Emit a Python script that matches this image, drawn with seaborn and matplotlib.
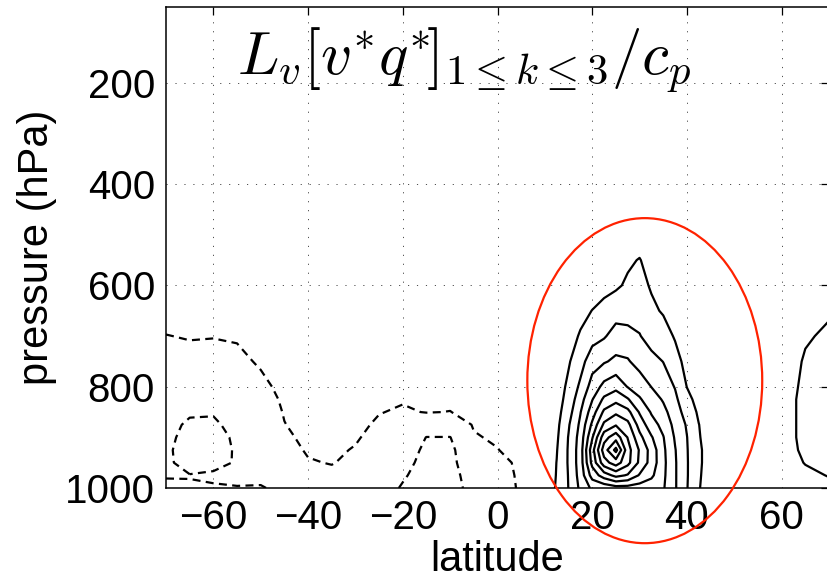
import numpy as np
import matplotlib
matplotlib.use("Agg")
import matplotlib.pyplot as plt
from matplotlib.patches import Ellipse
import seaborn as sns

# ---------------- data ----------------
lat = [-70, -65, -60, -55, -50, -45, -40, -35, -30, -25, -20, -15, -10, -5, 0, 5,
       10, 12.5, 15, 17.5, 20, 22.5, 25, 27.5, 30, 32.5, 35, 37.5, 40, 42.5, 45,
       50, 55, 60, 65, 70]
pressure = [1000, 975, 950, 925, 900, 875, 850, 825, 800, 750, 700, 650, 600, 550, 500, 50]

# vertical profiles (one per latitude, values at the pressure levels above)
vq_m70 = [-2.15, -1.95, -1.9, -1.9, -1.85, -1.8, -1.7, -1.6, -1.5, -1.3, -1.02, -0.7, -0.4, -0.2, 0, 0]
vq_m65 = [-2.05, -1.98, -2.2, -2.25, -2.2, -2.1, -1.92, -1.75, -1.55, -1.25, -0.95, -0.65, -0.4, -0.2, 0, 0]
vq_m60 = [-2.03, -1.95, -2.1, -2.3, -2.25, -2.1, -1.95, -1.8, -1.6, -1.3, -0.97, -0.7, -0.45, -0.2, 0, 0]
vq_m55 = [-2.02, -1.9, -1.97, -1.92, -1.88, -1.8, -1.7, -1.6, -1.45, -1.2, -0.92, -0.65, -0.4, -0.15, 0, 0]
vq_m50 = [-2.03, -1.9, -1.85, -1.78, -1.7, -1.6, -1.5, -1.35, -1.2, -0.9, -0.7, -0.45, -0.25, -0.1, 0, 0]
vq_m45 = [-1.9, -1.6, -1.4, -1.25, -1.12, -1.02, -0.95, -0.88, -0.78, -0.6, -0.45, -0.3, -0.15, -0.05, 0, 0]
vq_m40 = [-1.4, -1.2, -1.05, -0.93, -0.85, -0.77, -0.7, -0.65, -0.6, -0.45, -0.35, -0.25, -0.15, -0.05, 0, 0]
vq_m35 = [-1.3, -1.15, -0.97, -0.9, -0.82, -0.75, -0.7, -0.65, -0.6, -0.45, -0.35, -0.25, -0.15, -0.05, 0, 0]
vq_m30 = [-1.35, -1.25, -1.15, -1.04, -0.94, -0.87, -0.8, -0.72, -0.65, -0.5, -0.38, -0.27, -0.17, -0.08, 0, 0]
vq_m25 = [-1.5, -1.45, -1.4, -1.3, -1.2, -1.08, -0.98, -0.9, -0.82, -0.65, -0.48, -0.33, -0.2, -0.1, 0, 0]
vq_m20 = [-2.1, -1.88, -1.7, -1.5, -1.35, -1.2, -1.06, -0.96, -0.88, -0.7, -0.52, -0.36, -0.22, -0.1, 0, 0]
vq_m15 = [-2.5, -2.45, -2.3, -2.2, -2.02, -1.4, -0.98, -0.9, -0.82, -0.66, -0.5, -0.35, -0.22, -0.1, 0, 0]
vq_m10 = [-2.35, -2.3, -2.2, -2.15, -2.02, -1.45, -1.01, -0.9, -0.82, -0.66, -0.5, -0.35, -0.22, -0.1, 0, 0]
vq_m5 = [-1.7, -1.6, -1.5, -1.45, -1.05, -0.95, -0.85, -0.78, -0.7, -0.55, -0.4, -0.3, -0.2, -0.1, 0, 0]
vq_0 = [-1.25, -1.2, -1.15, -1.02, -0.92, -0.8, -0.7, -0.6, -0.5, -0.4, -0.3, -0.2, -0.12, -0.05, 0, 0]
vq_5 = [-0.93, -0.92, -0.9, -0.75, -0.6, -0.5, -0.4, -0.35, -0.3, -0.2, -0.15, -0.1, -0.05, 0, 0, 0]
vq_10 = [0.4, 0.35, 0.3, 0.25, 0.2, 0.15, 0.1, 0.05, 0, 0, 0, 0, 0, 0, 0, 0]
vq_12 = [1.1, 1.05, 1.02, 0.95, 0.85, 0.75, 0.65, 0.58, 0.5, 0.35, 0.2, 0.1, 0.05, 0, 0, 0]
vq_15 = [2.02, 2.05, 2.1, 2.1, 2.05, 1.9, 1.6, 1.35, 1.2, 0.9, 0.6, 0.35, 0.2, 0.1, 0, 0]
vq_17 = [3.2, 3.4, 3.5, 3.5, 3.4, 3.2, 2.95, 2.6, 2.2, 1.6, 1.1, 0.7, 0.4, 0.15, 0, 0]
vq_20 = [4.2, 5.4, 6.3, 6.6, 5.9, 5.2, 4.5, 3.95, 3.4, 2.6, 1.6, 1.02, 0.5, 0.2, 0.05, 0]
vq_22 = [4.3, 6.5, 8.6, 9.5, 8.6, 7.2, 6.2, 5.2, 4.3, 2.9, 1.9, 1.3, 0.7, 0.3, 0.1, 0]
vq_25 = [4.6, 7.3, 9.5, 11.3, 9.6, 7.9, 6.8, 5.7, 4.7, 3.2, 2.4, 1.6, 0.85, 0.4, 0.15, 0]
vq_27 = [4.6, 6.9, 8.3, 8.4, 7.95, 7.3, 6.3, 5.1, 3.95, 3.1, 2.3, 1.6, 1.15, 0.85, 0.4, 0]
vq_30 = [4.5, 5.9, 6.8, 6.9, 6.3, 5.6, 4.9, 4.1, 3.6, 2.6, 2.05, 1.6, 1.3, 1.05, 0.5, 0]
vq_32 = [4.4, 5.2, 5.6, 5.6, 5.1, 4.4, 3.9, 3.5, 2.98, 2.3, 1.6, 1.2, 0.9, 0.6, 0.3, 0]
vq_35 = [4.1, 4.2, 4.25, 4.2, 4.05, 3.7, 3.3, 2.9, 2.5, 1.98, 1.45, 0.9, 0.6, 0.35, 0.15, 0]
vq_37 = [3.1, 3.1, 3.1, 3.05, 2.9, 2.7, 2.45, 2.2, 1.95, 1.4, 0.9, 0.6, 0.4, 0.2, 0.1, 0]
vq_40 = [2.05, 2.08, 2.08, 2.06, 2.02, 1.9, 1.6, 1.3, 0.98, 0.65, 0.4, 0.25, 0.15, 0.05, 0, 0]
vq_42 = [1.05, 1.1, 1.15, 1.15, 1.08, 1.02, 0.85, 0.65, 0.5, 0.3, 0.15, 0.05, 0, 0, 0, 0]
vq_45 = [0.6, 0.6, 0.6, 0.6, 0.5, 0.45, 0.35, 0.25, 0.2, 0.1, 0.05, 0, 0, 0, 0, 0]
vq_50 = [0.3, 0.3, 0.3, 0.3, 0.25, 0.2, 0.15, 0.1, 0.1, 0.05, 0, 0, 0, 0, 0, 0]
vq_55 = [0.15, 0.15, 0.15, 0.15, 0.15, 0.15, 0.15, 0.15, 0.1, 0.1, 0.05, 0, 0, 0, 0, 0]
vq_60 = [0.2, 0.3, 0.45, 0.55, 0.6, 0.6, 0.6, 0.6, 0.55, 0.45, 0.3, 0.15, 0.05, 0, 0, 0]
vq_65 = [0.4, 0.75, 1.05, 1.2, 1.25, 1.25, 1.25, 1.25, 1.2, 1.1, 0.9, 0.6, 0.3, 0.1, 0, 0]
vq_70 = [0.7, 1.05, 1.4, 1.6, 1.7, 1.7, 1.7, 1.7, 1.6, 1.4, 1.15, 0.9, 0.5, 0.2, 0.05, 0]

pos_levels = [1, 2, 3, 4, 5, 6, 7, 8, 9, 10, 11]
neg_levels = [-3, -2, -1]

lat_ticks = [-60, -40, -20, 0, 20, 40, 60]
p_ticks = [200, 400, 600, 800, 1000]
title_text = r"$L_v[v^{*}q^{*}\!]_{1\leq k\leq 3}/c_p$"
xlabel_text = "latitude"
ylabel_text = "pressure (hPa)"

# ---------------- figure ----------------
sns.set_style("white")
plt.rcParams["font.family"] = ["Liberation Sans", "DejaVu Sans"]
plt.rcParams["mathtext.fontset"] = "cm"
plt.rcParams["text.color"] = "k"
plt.rcParams["axes.labelcolor"] = "k"
plt.rcParams["xtick.color"] = "k"
plt.rcParams["ytick.color"] = "k"

columns = [vq_m70, vq_m65, vq_m60, vq_m55, vq_m50, vq_m45, vq_m40, vq_m35, vq_m30,
           vq_m25, vq_m20, vq_m15, vq_m10, vq_m5, vq_0, vq_5, vq_10, vq_12, vq_15,
           vq_17, vq_20, vq_22, vq_25, vq_27, vq_30, vq_32, vq_35, vq_37, vq_40,
           vq_42, vq_45, vq_50, vq_55, vq_60, vq_65, vq_70]
Z = np.array(columns, dtype=float).T  # (pressure, lat)
LAT = np.array(lat, dtype=float)
P = np.array(pressure, dtype=float)

fig = plt.figure(figsize=(8.27, 5.83), dpi=100)
ax = fig.add_axes([166 / 827, 95 / 583, 663 / 827, 481 / 583])

cs_pos = ax.contour(LAT, P, Z, levels=pos_levels, colors="k", linewidths=1.6,
                    linestyles="solid", zorder=3)
cs_neg = ax.contour(LAT, P, Z, levels=neg_levels, colors="k", linewidths=1.6,
                    linestyles="dashed", zorder=3)
cs_neg.set_linestyle((0, (3.6, 2.4)))

ax.set_xlim(-70, 70)
ax.set_ylim(1000, 50)
ax.set_xticks(lat_ticks)
ax.set_yticks(p_ticks)
ax.set_xticklabels([("\u2212" + str(abs(v))) if v < 0 else str(v) for v in lat_ticks])

ax.grid(True, color="0.3", linewidth=0.7, linestyle=(0, (1.2, 8)))
ax.set_axisbelow(True)
for s in ax.spines.values():
    s.set_color("k")
    s.set_linewidth(1.1)

ax.tick_params(direction="in", length=6, width=0.9, top=True, right=True,
               labelsize=29, colors="k", pad=8)
ax.set_xlabel(xlabel_text, fontsize=30, labelpad=2)
ax.set_ylabel(ylabel_text, fontsize=30, labelpad=6)

ax.text(0.107, 0.862, title_text, transform=ax.transAxes, fontsize=44,
        ha="left", va="baseline", color="k", zorder=5)

ell = Ellipse((31.1, 788), width=49.6, height=642, fill=False,
              edgecolor="#ff2200", linewidth=1.6, clip_on=False, zorder=6)
ax.add_patch(ell)

fig.savefig("out.png", dpi=100)
